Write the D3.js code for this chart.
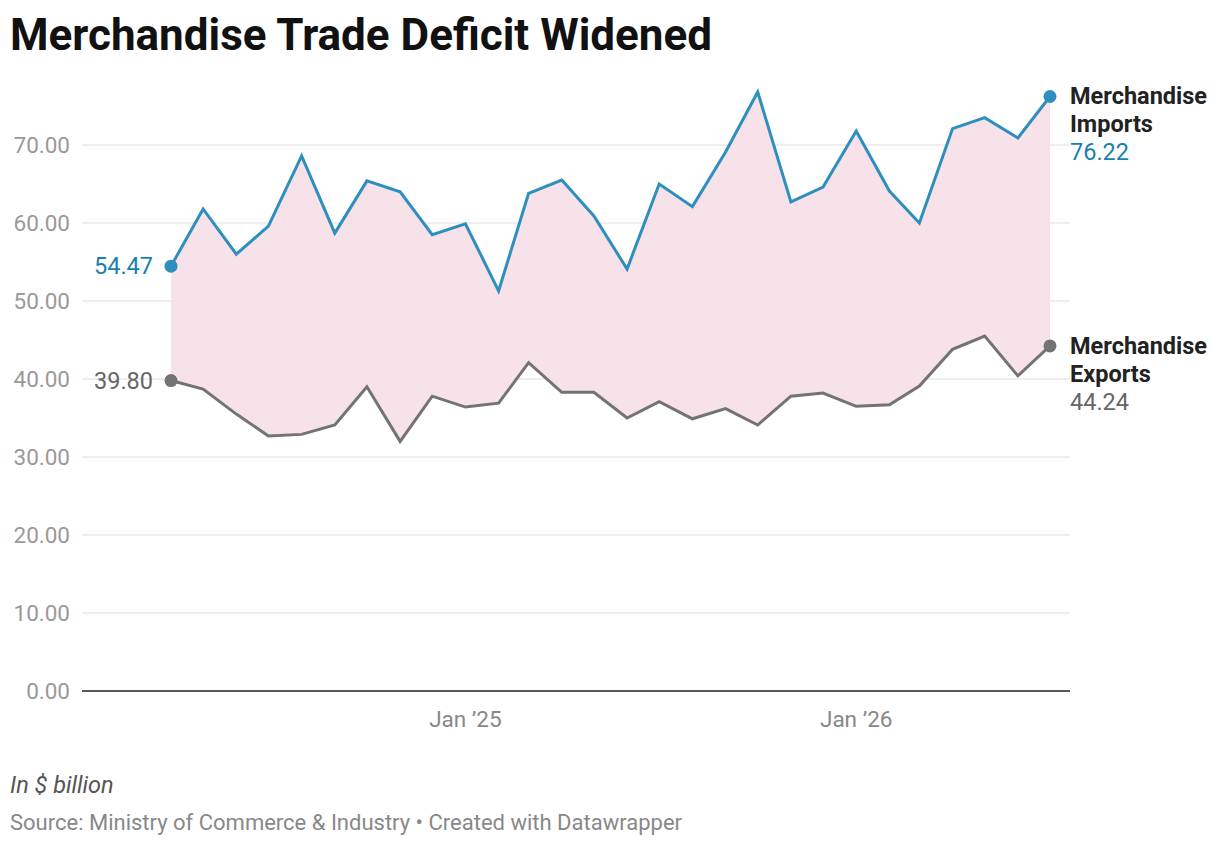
<!DOCTYPE html>
<html><head><meta charset="utf-8">
<script src="https://cdn.jsdelivr.net/npm/d3@7"></script>
<style>body{margin:0;background:#fff;font-family:Roboto,sans-serif}</style>
</head><body><svg id="c" width="1220" height="846"></svg>
<script>
const months = d3.range(28).map(i => new Date(2024, 3 + i, 1));
const imports = [54.47,61.8,56.0,59.6,68.6,58.7,65.4,64.0,58.5,59.9,51.3,63.8,65.5,60.9,54.1,65.0,62.1,69.1,76.8,62.7,64.6,71.8,64.1,60.0,72.1,73.5,70.9,76.22];
const exportsV = [39.8,38.7,35.5,32.7,32.9,34.1,39.0,32.0,37.8,36.4,36.9,42.1,38.3,38.3,35.0,37.1,34.9,36.2,34.1,37.8,38.2,36.5,36.7,39.1,43.8,45.5,40.4,44.24];
const yTicks = [0,10,20,30,40,50,60,70];
const xTicks = [new Date(2025,0,1), new Date(2026,0,1)];
const xTickLabels = ["Jan ’25","Jan ’26"];

const svg = d3.select("#c");
const x = d3.scaleTime().domain([months[0], months[27]]).range([171,1050]);
const y = d3.scaleLinear().domain([0,70]).range([691,145]);
const impC = "#2e8fbf", expC = "#737373";

svg.append("text").attr("x",10).attr("y",50).attr("font-size",44).attr("font-weight",700).attr("fill","#111").text("Merchandise Trade Deficit Widened");

const g = svg.append("g");
yTicks.forEach(t => {
  g.append("line").attr("x1",82).attr("x2",1070).attr("y1",y(t)).attr("y2",y(t))
   .attr("stroke", t===0?"#222":"#ddd").attr("stroke-width", t===0?1.5:1);
  g.append("text").attr("x",70).attr("y",y(t)+8).attr("text-anchor","end").attr("font-size",22.5).attr("fill","#999").text(t.toFixed(2));
});
xTicks.forEach((d,i) => {
  g.append("text").attr("x",x(d)).attr("y",727).attr("text-anchor","middle").attr("font-size",22.5).attr("fill","#888").text(xTickLabels[i]);
});

const area = d3.area().x((d,i)=>x(months[i])).y0((d,i)=>y(exportsV[i])).y1(d=>y(d));
g.append("path").datum(imports).attr("d",area).attr("fill","#f6e2e8");
const line = d3.line().x((d,i)=>x(months[i])).y(d=>y(d));
g.append("path").datum(exportsV).attr("d",line).attr("fill","none").attr("stroke",expC).attr("stroke-width",3);
g.append("path").datum(imports).attr("d",line).attr("fill","none").attr("stroke",impC).attr("stroke-width",3);

[[imports,impC,"#1a7fae","Imports"],[exportsV,expC,"#666","Exports"]].forEach(([s,c,tc,nm])=>{
  [0,27].forEach(i=>g.append("circle").attr("cx",x(months[i])).attr("cy",y(s[i])).attr("r",6.5).attr("fill",c));
  g.append("text").attr("x",153).attr("y",y(s[0])+8).attr("text-anchor","end").attr("font-size",23.5).attr("fill",tc).text(s[0].toFixed(2));
  const ly = y(s[27]);
  g.append("text").attr("x",1070).attr("y",ly+8).attr("font-size",23.5).attr("font-weight",700).attr("fill","#222").text("Merchandise");
  g.append("text").attr("x",1070).attr("y",ly+36).attr("font-size",23.5).attr("font-weight",700).attr("fill","#222").text(nm);
  g.append("text").attr("x",1070).attr("y",ly+64).attr("font-size",23.5).attr("fill",tc).text(s[27].toFixed(2));
});

svg.append("text").attr("x",10).attr("y",793).attr("font-size",23.5).attr("font-style","italic").attr("fill","#555").text("In $ billion");
svg.append("text").attr("x",10).attr("y",830).attr("font-size",22).attr("fill","#888").text("Source: Ministry of Commerce & Industry • Created with Datawrapper");
</script></body></html>
